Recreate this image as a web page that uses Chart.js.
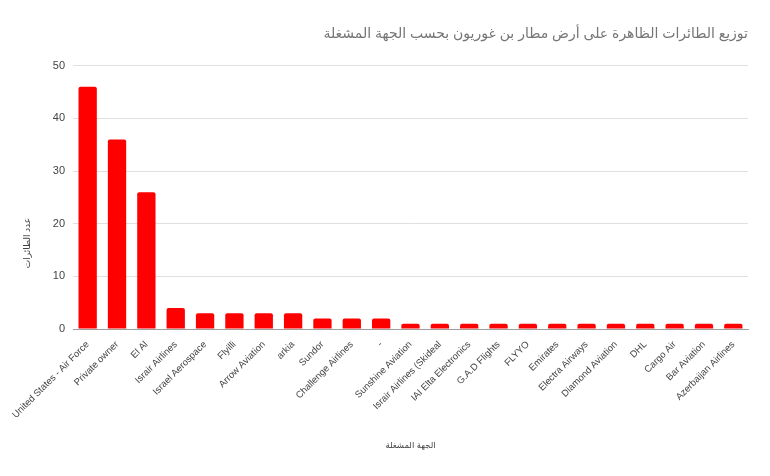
<!DOCTYPE html>
<html>
<head>
<meta charset="utf-8">
<script src="https://cdn.jsdelivr.net/npm/chart.js@4"></script>
<style>
  body { margin: 0; background: #fff; }
  #wrap { width: 770px; height: 476px; }
</style>
</head>
<body>
<div id="wrap"><canvas id="chart"></canvas></div>
<script>
// operators (x axis)
const operators = [
  'United States - Air Force', 'Private owner', 'El Al', 'Israir Airlines', 'Israel Aerospace',
  'Flyilli', 'Arrow Aviation', 'arkia', 'Sundor', 'Challenge Airlines', '-',
  'Sunshine Aviation', 'Israir Airlines (Skideal', 'IAI Elta Electronics', 'G.A.D Flights',
  'FLYYO', 'Emirates', 'Electra Airways', 'Diamond Aviation', 'DHL', 'Cargo Air',
  'Bar Aviation', 'Azerbaijan Airlines'
];
// number of aircraft
const aircraftCount = [46, 36, 26, 4, 3, 3, 3, 3, 2, 2, 2, 1, 1, 1, 1, 1, 1, 1, 1, 1, 1, 1, 1];
const yTicks = [0, 10, 20, 30, 40, 50];

const chartTitle = 'توزيع الطائرات الظاهرة على أرض مطار بن غوريون بحسب الجهة المشغلة';
const xTitle = 'الجهة المشغلة';
const yTitle = 'عدد الطائرات';

const FONT = 'Arial, "Liberation Sans", "DejaVu Sans", sans-serif';

// y title drawn a bit lower than centre, like the original
const yTitlePlugin = {
  id: 'yTitle',
  afterDraw(chart) {
    const ctx = chart.ctx;
    ctx.save();
    ctx.translate(28, 243);
    ctx.rotate(-Math.PI / 2);
    ctx.font = '9px ' + FONT;
    ctx.fillStyle = '#444';
    ctx.textAlign = 'center';
    ctx.textBaseline = 'middle';
    ctx.fillText(yTitle, 0, 0);
    ctx.restore();
  }
};

new Chart(document.getElementById('chart').getContext('2d'), {
  type: 'bar',
  data: {
    labels: operators,
    datasets: [{
      data: aircraftCount,
      backgroundColor: '#ff0000',
      borderRadius: { topLeft: 2, topRight: 2 },
      borderSkipped: 'start',
      categoryPercentage: 0.8,
      barPercentage: 0.78
    }]
  },
  options: {
    responsive: true,
    maintainAspectRatio: false,
    animation: false,
    layout: { padding: { left: 0, right: 22, top: 10, bottom: 25 } },
    plugins: {
      legend: { display: false },
      tooltip: { enabled: false },
      title: {
        display: true,
        text: chartTitle,
        align: 'end',
        color: '#757575',
        font: { family: FONT, size: 14, weight: 'normal' },
        padding: { top: 16, bottom: 23 }
      }
    },
    scales: {
      x: {
        grid: { display: false },
        border: { color: '#9e9e9e', width: 1 },
        ticks: {
          color: '#444',
          font: { family: FONT, size: 9.5 },
          minRotation: 45,
          maxRotation: 45,
          autoSkip: false,
          padding: 2
        },
        title: {
          display: true,
          text: xTitle,
          color: '#444',
          font: { family: FONT, size: 8.5 },
          padding: 0
        },
        afterFit(scale) {
          scale.paddingLeft = 0;
          scale.paddingRight = 0;
          scale.height = 122;
        }
      },
      y: {
        min: 0,
        max: 50,
        afterBuildTicks(scale) {
          scale.ticks = yTicks.map(v => ({ value: v }));
        },
        grid: { color: '#e0e0e0', drawTicks: false },
        border: { display: false },
        ticks: {
          color: '#444',
          font: { family: FONT, size: 11 },
          padding: 8
        },
        afterFit(scale) {
          scale.width = 73;
        }
      }
    }
  },
  plugins: [yTitlePlugin]
});
</script>
</body>
</html>
